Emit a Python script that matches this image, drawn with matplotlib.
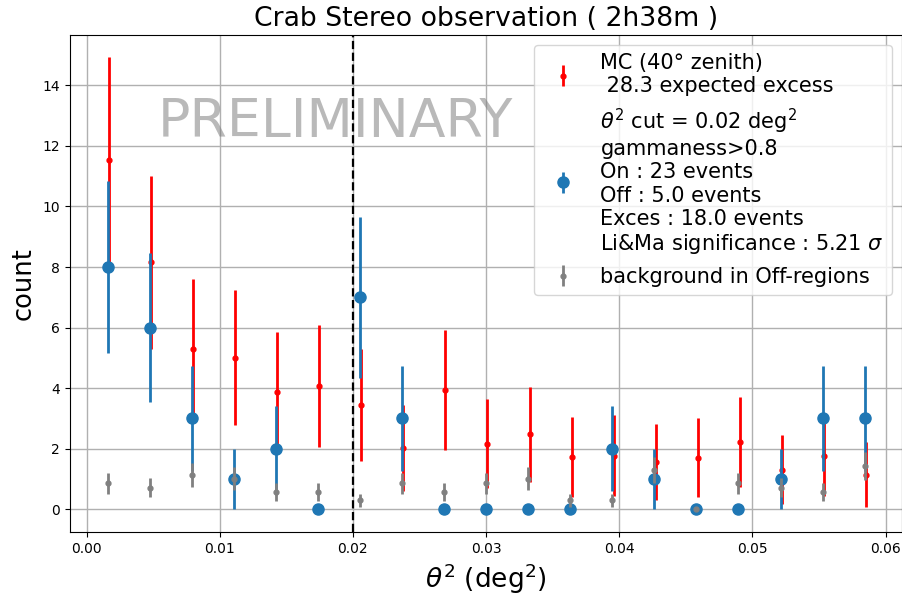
import matplotlib
matplotlib.use("Agg")
import matplotlib.pyplot as plt

theta2 = [0.00158, 0.00474, 0.00789, 0.01105, 0.01421, 0.01737, 0.02053, 0.02368,
          0.02684, 0.03000, 0.03316, 0.03632, 0.03947, 0.04263, 0.04579, 0.04895,
          0.05211, 0.05526, 0.05842]
mc_theta2 = [0.00168, 0.00484, 0.00799, 0.01115, 0.01431, 0.01747, 0.02063, 0.02378,
             0.02694, 0.03010, 0.03326, 0.03642, 0.03957, 0.04273, 0.04589, 0.04905,
             0.05221, 0.05536, 0.05852]

on_counts = [8, 6, 3, 1, 2, 0, 7, 3, 0, 0, 0, 0, 2, 1, 0, 0, 1, 3, 3]
on_err = [2.83, 2.45, 1.73, 1.0, 1.41, 0.0, 2.65, 1.73, 0.0, 0.0, 0.0, 0.0, 1.41,
          1.0, 0.0, 0.0, 1.0, 1.73, 1.73]

mc_counts = [11.55, 8.15, 5.30, 5.01, 3.87, 4.07, 3.44, 2.02, 3.94, 2.16, 2.48, 1.73,
             1.77, 1.56, 1.70, 2.23, 1.30, 1.77, 1.14]
mc_err = [3.40, 2.85, 2.30, 2.24, 1.97, 2.02, 1.85, 1.42, 1.98, 1.47, 1.57, 1.32,
          1.33, 1.25, 1.30, 1.49, 1.14, 1.33, 1.07]

bkg_counts = [0.86, 0.71, 1.14, 1.00, 0.57, 0.57, 0.29, 0.86, 0.57, 0.86, 1.00, 0.29,
              0.29, 1.29, 0.00, 0.86, 0.71, 0.57, 1.43]
bkg_err = [0.35, 0.32, 0.40, 0.38, 0.29, 0.29, 0.20, 0.35, 0.29, 0.35, 0.38, 0.20,
           0.20, 0.43, 0.00, 0.35, 0.32, 0.29, 0.45]

theta2_cut = 0.02

mc_label = "MC (40° zenith)\n 28.3 expected excess"
on_label = ("$\\theta^2$ cut = 0.02 deg$^2$\ngammaness>0.8\nOn : 23 events\n"
            "Off : 5.0 events\nExces : 18.0 events\nLi&Ma significance : 5.21 $\\sigma$")
bkg_label = "background in Off-regions"

fig = plt.figure(figsize=(9.03, 5.99), dpi=100)
ax = fig.add_axes([0.077, 0.1119, 0.9222, 0.8305])

ax.errorbar(mc_theta2, mc_counts, yerr=mc_err, fmt='.', color='red',
            markersize=7, elinewidth=2, label=mc_label, zorder=3)
ax.errorbar(theta2, on_counts, yerr=on_err, fmt='o', color='#1f77b4',
            markersize=8, elinewidth=2, label=on_label, zorder=4)
ax.errorbar(theta2, bkg_counts, yerr=bkg_err, fmt='.', color='gray',
            markersize=7, elinewidth=2, label=bkg_label, zorder=5)

ax.axvline(theta2_cut, color='black', linestyle='--', linewidth=1.6, zorder=6)

ax.text(0.01865, 12.8, "PRELIMINARY", fontsize=38.7, color='gray', alpha=0.55,
        ha='center', va='center', zorder=1)

ax.set_xlim(-0.00128, 0.06125)
ax.set_ylim(-0.75, 15.68)
ax.set_xticks([0.0, 0.01, 0.02, 0.03, 0.04, 0.05, 0.06])
ax.set_xticklabels(["0.00", "0.01", "0.02", "0.03", "0.04", "0.05", "0.06"])
ax.set_yticks([0, 2, 4, 6, 8, 10, 12, 14])
ax.tick_params(labelsize=10)
ax.grid(True, color='#b0b0b0', linewidth=1)
ax.set_axisbelow(True)

ax.set_title("Crab Stereo observation ( 2h38m )", fontsize=19.2)
ax.set_xlabel("$\\theta^2$ (deg$^2$)", fontsize=19)
ax.set_ylabel("count", fontsize=18.5)

ax.legend(loc='upper right', fontsize=15)

fig.savefig("out.png", dpi=100)
